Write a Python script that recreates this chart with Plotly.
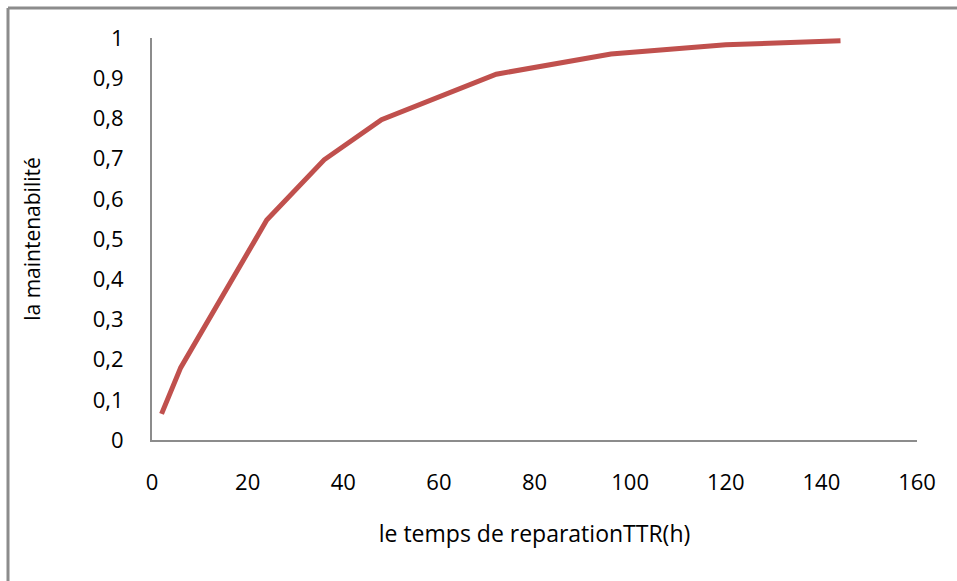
import plotly.graph_objects as go

ttr_hours = [2, 4, 6, 24, 36, 48, 72, 96, 120, 144]
maintenabilite = [0.065, 0.124, 0.18, 0.547, 0.697, 0.797, 0.91, 0.96, 0.983, 0.993]

x_ticks = [0, 20, 40, 60, 80, 100, 120, 140, 160]
y_ticks = [0, 0.1, 0.2, 0.3, 0.4, 0.5, 0.6, 0.7, 0.8, 0.9, 1]
y_tick_text = ["0", "0,1", "0,2", "0,3", "0,4", "0,5", "0,6", "0,7", "0,8", "0,9", "1"]

W, H = 957, 581
ml, mr, mt, mb = 152, 40, 38, 141
pw, ph = W - ml - mr, H - mt - mb

font_family = "Open Sans, Liberation Sans, sans-serif"

fig = go.Figure()
fig.add_trace(go.Scatter(
    x=ttr_hours, y=maintenabilite, mode="lines",
    line=dict(color="#C0504D", width=5),
    hoverinfo="skip", showlegend=False,
))

axis_common = dict(
    showgrid=False, zeroline=False, showline=True,
    linecolor="#8C8C8C", linewidth=2, ticks="",
    tickfont=dict(family=font_family, size=22, color="#000000"),
)

fig.update_layout(
    width=W, height=H,
    margin=dict(l=ml, r=mr, t=mt, b=mb),
    paper_bgcolor="white", plot_bgcolor="white",
    xaxis=dict(range=[0, 160], tickvals=x_ticks, ticklabelstandoff=22,
               title=dict(text="le temps de reparationTTR(h)",
                          font=dict(family=font_family, size=23, color="#000000"),
                          standoff=30),
               **axis_common),
    yaxis=dict(range=[0, 1], tickvals=y_ticks, ticktext=y_tick_text,
               ticklabelstandoff=22,
               title=dict(text="la maintenabilité",
                          font=dict(family=font_family, size=21, color="#000000"),
                          standoff=46),
               **axis_common),
)

# outer chart-area frame (top and left edges visible)
def px_x(p):
    return (p - ml) / pw

def px_y(p):
    return 1 - (p - mt) / ph

fig.add_shape(type="line", xref="paper", yref="paper",
              x0=px_x(8), x1=px_x(W + 10), y0=px_y(8), y1=px_y(8),
              line=dict(color="#8C8C8C", width=3))
fig.add_shape(type="line", xref="paper", yref="paper",
              x0=px_x(8), x1=px_x(8), y0=px_y(8), y1=px_y(H + 10),
              line=dict(color="#8C8C8C", width=3))

fig.write_html("out.html")
